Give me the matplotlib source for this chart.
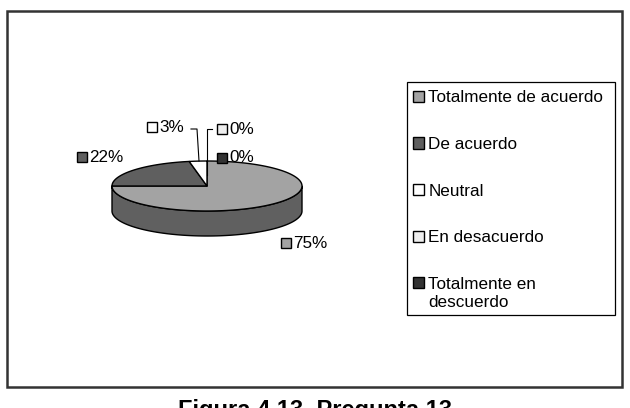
import numpy as np
import matplotlib
matplotlib.use('Agg')
import matplotlib.pyplot as plt
from matplotlib.patches import Polygon, Rectangle
from matplotlib.legend_handler import HandlerPatch

plt.rcParams['font.family'] = ['Liberation Sans', 'DejaVu Sans']

# data
categories = ['Totalmente de acuerdo', 'De acuerdo', 'Neutral', 'En desacuerdo',
              'Totalmente en\ndescuerdo']
values = [75, 22, 3, 0, 0]
colors = ['#a3a3a3', '#5f5f5f', '#ffffff', '#eeeeee', '#333333']
side_colors = ['#606060', '#3a3a3a', '#bbbbbb', '#aaaaaa', '#222222']

# label positions (pixel coords, top-left origin)
label_pos = [(286, 243), (82, 157), (152, 127), (222, 129), (222, 158)]

fig = plt.figure(figsize=(6.3, 4.08), dpi=100)
ax = fig.add_axes([0, 0, 1, 1])
ax.set_xlim(0, 630)
ax.set_ylim(408, 0)
ax.axis('off')

# outer chart frame
ax.add_patch(Rectangle((7, 11), 615, 376, fill=False, edgecolor='#333333', lw=1.8))

# pie geometry
cx, cy, rx, ry, depth = 207, 186, 95, 25, 25


def pt(th):
    return cx + rx * np.cos(th), cy - ry * np.sin(th)


total = sum(values)
start = np.pi / 2
angles = []
for v in values:
    end = start - 2 * np.pi * v / total
    angles.append((start, end))
    start = end

# side walls (front half only)
for (a0, a1), sc in zip(angles, side_colors):
    if a0 == a1:
        continue
    th = np.linspace(a0, a1, 300)
    th = th[np.sin(th) <= 0.0001]
    if len(th) < 2:
        continue
    x, y = pt(th)
    xs = np.concatenate([x, x[::-1]])
    ys = np.concatenate([y, y[::-1] + depth])
    ax.add_patch(Polygon(np.column_stack([xs, ys]), closed=True,
                         facecolor=sc, edgecolor='black', lw=1, joinstyle='round'))

# top faces
for (a0, a1), c in zip(angles, colors):
    if a0 == a1:
        continue
    th = np.linspace(a0, a1, 200)
    x, y = pt(th)
    xs = np.concatenate([[cx], x])
    ys = np.concatenate([[cy], y])
    ax.add_patch(Polygon(np.column_stack([xs, ys]), closed=True,
                         facecolor=c, edgecolor='black', lw=1, joinstyle='round'))

# leader lines for the small slices
ax.plot([191, 197, 199], [129, 129, 161], color='black', lw=0.8)
ax.plot([212, 207, 207], [129, 129, 175], color='black', lw=0.8)

# data labels
for v, c, (lx, ly) in zip(values, colors, label_pos):
    ax.plot(lx, ly, marker='s', markersize=7, markerfacecolor=c,
            markeredgecolor='black', markeredgewidth=1)
    ax.text(lx + 7.5, ly, f'{v:.0f}%', fontsize=12.3, va='center', ha='left')


# legend (marker of the two-line entry sits on the first line)
def top_square(legend, orig_handle, xdescent, ydescent, width, height, fontsize):
    return Rectangle((-xdescent, -ydescent + 8), width, height)


ax.add_patch(Rectangle((407, 82), 208, 233, fill=False, edgecolor='black', lw=0.9))
handles = [Rectangle((0, 0), 1, 1, facecolor=c, edgecolor='black', lw=1) for c in colors]
leg = ax.legend(handles, categories, loc='upper left', bbox_to_anchor=(398, 75),
                bbox_transform=ax.transData, frameon=False, fontsize=12.3,
                handlelength=0.62, handleheight=0.62, handletextpad=0.25,
                labelspacing=1.85, borderpad=0.4,
                handler_map={handles[-1]: HandlerPatch(patch_func=top_square)})
leg.get_texts()[-1].set_linespacing(1.3)

# caption
ax.text(315, 399, 'Figura 4.13. Pregunta 13', fontsize=17, fontweight='bold',
        ha='center', va='top')

fig.savefig('out.png', dpi=100)
